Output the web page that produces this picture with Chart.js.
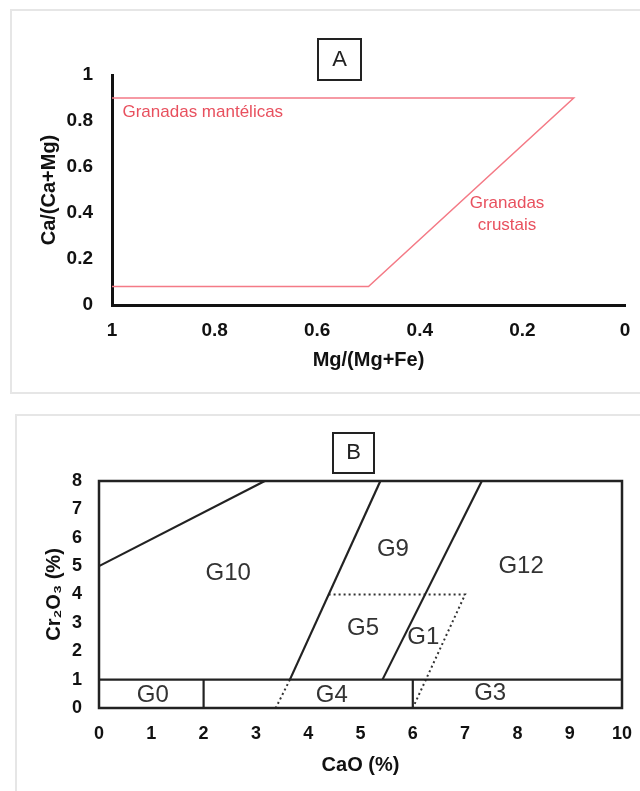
<!DOCTYPE html>
<html><head><meta charset="utf-8">
<script src="https://cdn.jsdelivr.net/npm/chart.js@4.4.1/dist/chart.umd.min.js"></script>
<style>
body{margin:0;background:#fff;width:640px;height:791px;overflow:hidden;position:relative;}
.frame{position:absolute;border:2px solid #e6e6e6;box-sizing:border-box;}
#fa{left:10px;top:9px;width:660px;height:385px;}
#fb{left:15px;top:414px;width:660px;height:420px;}
canvas{position:absolute;left:0;}
#ca{top:0}
#cb{top:400px}
</style></head><body>
<div class="frame" id="fa"></div><div class="frame" id="fb"></div>
<canvas id="ca" width="640" height="400"></canvas>
<canvas id="cb" width="640" height="391"></canvas>
<script>
// ---------- Panel A data ----------
const aBoundaryX = [1, 0.1, 0.5, 1];
const aBoundaryY = [0.9, 0.9, 0.08, 0.08];
const aLabelLines = [["Granadas mantélicas"], ["Granadas", "crustais"]];
const aLabelX = [0.823, 0.23];
const aLabelY = [0.839, 0.396];
const aXTitle = "Mg/(Mg+Fe)";
const aYTitle = "Ca/(Ca+Mg)";

// ---------- Panel B data ----------
const bBaseX = [0, 10], bBaseY = [1, 1];
const bG0G4X = [2, 2], bG0G4Y = [0, 1];
const bG4G3X = [6, 6], bG4G3Y = [0, 1];
const bG10UpperX = [0, 3.17], bG10UpperY = [5, 8];
const bG10G9X = [3.65, 5.38], bG10G9Y = [1, 8];
const bG9G12X = [5.42, 7.32], bG9G12Y = [1, 8];
const bG5DotX = [4.39, 7.0, 6.0], bG5DotY = [4, 4, 0];
const bG4DotX = [3.65, 3.38], bG4DotY = [1, 0];
const bRegionNames = ["G10", "G9", "G12", "G5", "G1", "G0", "G4", "G3"];
const bRegionX = [2.47, 5.62, 8.07, 5.05, 6.2, 1.03, 4.45, 7.48];
const bRegionY = [4.75, 5.6, 4.98, 2.82, 2.5, 0.46, 0.46, 0.53];
const bXTitle = "CaO (%)";
const bYTitle = "Cr\u2082O\u2083 (%)";

const FONT = '"Liberation Sans", Arial, sans-serif';
const zip = (xs, ys) => xs.map((v, i) => ({x: v, y: ys[i]}));
const fmt = v => String(+Number(v).toFixed(2));

Chart.defaults.font.family = FONT;

// ---------- Chart A ----------
const panelAPlugin = {
  id: 'panelA',
  afterDatasetsDraw(chart) {
    const {ctx, scales: {x, y}} = chart;
    ctx.save();
    ctx.strokeStyle = '#222'; ctx.lineWidth = 2;
    ctx.strokeRect(318, 39, 43, 41);
    ctx.fillStyle = '#222'; ctx.font = '22px ' + FONT;
    ctx.textAlign = 'center'; ctx.textBaseline = 'middle';
    ctx.fillText('A', 339.5, 60);
    ctx.fillStyle = '#e8505e'; ctx.font = '17px ' + FONT;
    aLabelLines.forEach((lines, i) => {
      const cx = x.getPixelForValue(aLabelX[i]);
      const cy = y.getPixelForValue(aLabelY[i]);
      lines.forEach((t, j) => ctx.fillText(t, cx, cy + (j - (lines.length - 1) / 2) * 22));
    });
    ctx.restore();
  }
};

new Chart(document.getElementById('ca'), {
  type: 'scatter',
  data: {datasets: [{
    data: zip(aBoundaryX, aBoundaryY), showLine: true, pointRadius: 0,
    borderColor: '#f47a86', borderWidth: 1.5, clip: false, tension: 0
  }]},
  options: {
    responsive: false, animation: false, devicePixelRatio: 1,
    layout: {autoPadding: false, padding: {left: 0, right: 15, top: 75, bottom: 0}},
    plugins: {legend: {display: false}, tooltip: {enabled: false}},
    scales: {
      x: {
        type: 'linear', reverse: true, min: 0, max: 1,
        grid: {display: false, drawTicks: false},
        border: {display: true, color: '#111', width: 3},
        ticks: {stepSize: 0.2, padding: 14, color: '#111', font: {size: 19, weight: 'bold'}, callback: fmt},
        title: {display: true, text: aXTitle, color: '#111', font: {size: 20, weight: 'bold'}, padding: {top: 0, bottom: 28}},
        afterFit: s => { s.height = 95; s.paddingLeft = 0; s.paddingRight = 0; }
      },
      y: {
        type: 'linear', min: 0, max: 1,
        grid: {display: false, drawTicks: false},
        border: {display: true, color: '#111', width: 3},
        ticks: {stepSize: 0.2, padding: 19, color: '#111', font: {size: 19, weight: 'bold'}, callback: fmt},
        title: {display: true, text: aYTitle, color: '#111', font: {size: 20, weight: 'bold'}, padding: {top: 37, bottom: 0}},
        afterFit: s => { s.width = 112; }
      }
    }
  },
  plugins: [panelAPlugin]
});

// ---------- Chart B ----------
const panelBPlugin = {
  id: 'panelB',
  afterDatasetsDraw(chart) {
    const {ctx, chartArea: a, scales: {x, y}} = chart;
    ctx.save();
    ctx.strokeStyle = '#222'; ctx.lineWidth = 2.5;
    ctx.strokeRect(a.left, a.top, a.right - a.left, a.bottom - a.top);
    ctx.lineWidth = 2;
    ctx.strokeRect(333, 33, 41, 40);
    ctx.fillStyle = '#222'; ctx.font = '22px ' + FONT;
    ctx.textAlign = 'center'; ctx.textBaseline = 'middle';
    ctx.fillText('B', 353.5, 53);
    ctx.fillStyle = '#333'; ctx.font = '24px ' + FONT;
    bRegionNames.forEach((n, i) => {
      ctx.fillText(n, x.getPixelForValue(bRegionX[i]), y.getPixelForValue(bRegionY[i]));
    });
    ctx.restore();
  }
};

const solid = (xs, ys) => ({data: zip(xs, ys), showLine: true, pointRadius: 0, borderColor: '#222', borderWidth: 2.2, clip: false});
const dotted = (xs, ys) => ({data: zip(xs, ys), showLine: true, pointRadius: 0, borderColor: '#333', borderWidth: 2, borderDash: [2, 3], clip: false});

new Chart(document.getElementById('cb'), {
  type: 'scatter',
  data: {datasets: [
    solid(bBaseX, bBaseY), solid(bG0G4X, bG0G4Y), solid(bG4G3X, bG4G3Y),
    solid(bG10UpperX, bG10UpperY), solid(bG10G9X, bG10G9Y), solid(bG9G12X, bG9G12Y),
    dotted(bG5DotX, bG5DotY), dotted(bG4DotX, bG4DotY)
  ]},
  options: {
    responsive: false, animation: false, devicePixelRatio: 1,
    layout: {autoPadding: false, padding: {left: 0, right: 18, top: 81, bottom: 0}},
    plugins: {legend: {display: false}, tooltip: {enabled: false}},
    scales: {
      x: {
        type: 'linear', min: 0, max: 10,
        grid: {display: false, drawTicks: false},
        border: {display: false},
        ticks: {stepSize: 1, padding: 15, color: '#111', font: {size: 18, weight: 'bold'}},
        title: {display: true, text: bXTitle, color: '#111', font: {size: 20, weight: 'bold'}, padding: {top: 0, bottom: 14}},
        afterFit: s => { s.height = 83; s.paddingLeft = 0; s.paddingRight = 0; }
      },
      y: {
        type: 'linear', min: 0, max: 8,
        grid: {display: false, drawTicks: false},
        border: {display: false},
        ticks: {stepSize: 1, padding: 17, color: '#111', font: {size: 18, weight: 'bold'}},
        title: {display: true, text: bYTitle, color: '#111', font: {size: 20, weight: 'bold'}, padding: {top: 42, bottom: 0}},
        afterFit: s => { s.width = 99; }
      }
    }
  },
  plugins: [panelBPlugin]
});
</script>
</body></html>
